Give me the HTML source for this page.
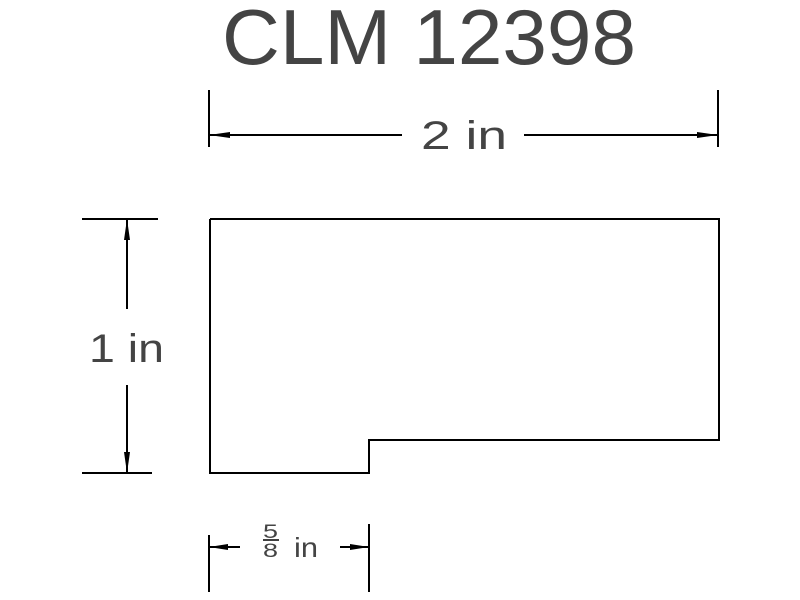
<!DOCTYPE html>
<html><head><style>body{margin:0;background:#fff}svg{display:block}</style></head><body>
<svg width="800" height="600" xmlns="http://www.w3.org/2000/svg" font-family="Liberation Sans, sans-serif">
<g stroke="#000" stroke-width="2" fill="none">
<polyline points="210,219 719,219 719,440 369,440 369,473 210,473 210,219"/>
<line x1="209" y1="90" x2="209" y2="147"/><line x1="718" y1="90" x2="718" y2="147"/>
<line x1="209" y1="135" x2="402" y2="135"/><line x1="524" y1="135" x2="718" y2="135"/>
<line x1="82" y1="219" x2="158" y2="219"/><line x1="82" y1="473" x2="152" y2="473"/>
<line x1="127" y1="219" x2="127" y2="309"/><line x1="127" y1="385" x2="127" y2="473"/>
<line x1="209" y1="535" x2="209" y2="592"/><line x1="369" y1="524" x2="369" y2="592"/>
<line x1="209" y1="547" x2="240" y2="547"/><line x1="340" y1="547" x2="369" y2="547"/>
<line x1="263" y1="540" x2="279" y2="540" stroke-width="1.5"/>
</g>
<g fill="#000">
<polygon points="209,135 230,132 230,138"/><polygon points="718,135 697,132 697,138"/>
<polygon points="127,219 124,240 130,240"/><polygon points="127,473 124,452 130,452"/>
<polygon points="209,547 228,544 228,550"/><polygon points="369,547 350,544 350,550"/>
</g>
<g fill="#444">
<text x="222" y="64" font-size="78" textLength="414" lengthAdjust="spacingAndGlyphs">CLM 12398</text>
<text x="421" y="149" font-size="40" textLength="86" lengthAdjust="spacingAndGlyphs">2 in</text>
<text x="89" y="362" font-size="40" textLength="75" lengthAdjust="spacingAndGlyphs">1 in</text>
<text x="263" y="538" font-size="19" textLength="15" lengthAdjust="spacingAndGlyphs">5</text>
<text x="263" y="557" font-size="19" textLength="15" lengthAdjust="spacingAndGlyphs">8</text>
<text x="294" y="557" font-size="28" textLength="24" lengthAdjust="spacingAndGlyphs">in</text>
</g>
</svg>
</body></html>
